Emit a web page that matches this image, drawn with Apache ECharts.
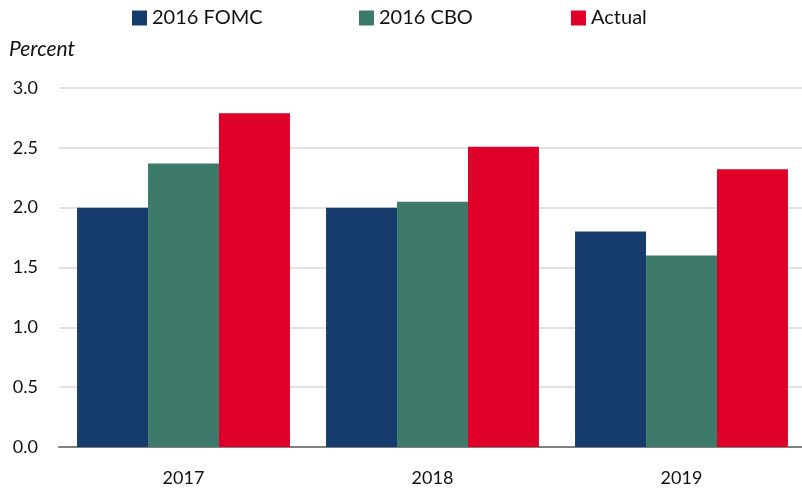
<!DOCTYPE html>
<html>
<head>
<meta charset="utf-8">
<script src="https://cdn.jsdelivr.net/npm/echarts@6/dist/echarts.min.js"></script>
<style>
  html, body { margin:0; padding:0; background:#fff; }
  #chart { width:802px; height:490px; }
</style>
</head>
<body>
<div id="chart"></div>
<script>
  const years = ['2017', '2018', '2019'];
  const fomc = [2.0, 2.0, 1.8];
  const cbo = [2.37, 2.05, 1.6];
  const actual = [2.79, 2.51, 2.32];
  const yTicks = [0, 0.5, 1.0, 1.5, 2.0, 2.5, 3.0];

  const FONT = 'Lato, "Noto Sans", sans-serif';
  const chart = echarts.init(document.getElementById('chart'));

  function legendAt(name, left){
    return {
      data:[name], left:left, top:3, itemWidth:15, itemHeight:15, itemGap:0,
      icon:'rect', selectedMode:false,
      textStyle:{ fontFamily:FONT, fontSize:20, color:'#111', padding:[0,0,0,0] }
    };
  }

  chart.setOption({
    animation:false,
    textStyle:{ fontFamily:FONT },
    legend:[ legendAt('2016 FOMC', 127), legendAt('2016 CBO', 354), legendAt('Actual', 566) ],
    // plot runs a few px past the right edge, like the source
    grid:{ left:59, right:-4, top:88, bottom:43, containLabel:false, outerBoundsMode:'none' },
    title:{ text:'Percent', left:4, top:34, textStyle:{ fontFamily:FONT, fontSize:21, fontStyle:'italic', fontWeight:'normal', color:'#111' } },
    xAxis:{
      type:'category', data:years,
      axisTick:{ show:false },
      axisLine:{ lineStyle:{ color:'#808080', width:2 } },
      axisLabel:{ fontSize:18, color:'#111', margin:22 }
    },
    yAxis:{
      type:'value', min:0, max:3, interval:0.5,
      axisLabel:{ fontSize:18, color:'#111', margin:21, formatter:v => yTicks.includes(v) ? v.toFixed(1) : '' },
      splitLine:{ lineStyle:{ color:'#d9d9d9', width:1.5 } },
      axisLine:{ show:false }, axisTick:{ show:false }
    },
    series:[
      { name:'2016 FOMC', type:'bar', data:fomc, barGap:'0%', barCategoryGap:'14.5%', itemStyle:{ color:'#153c6c' } },
      { name:'2016 CBO', type:'bar', data:cbo, itemStyle:{ color:'#3e7a6b' } },
      { name:'Actual', type:'bar', data:actual, itemStyle:{ color:'#df0029' } }
    ]
  });
</script>
</body>
</html>
